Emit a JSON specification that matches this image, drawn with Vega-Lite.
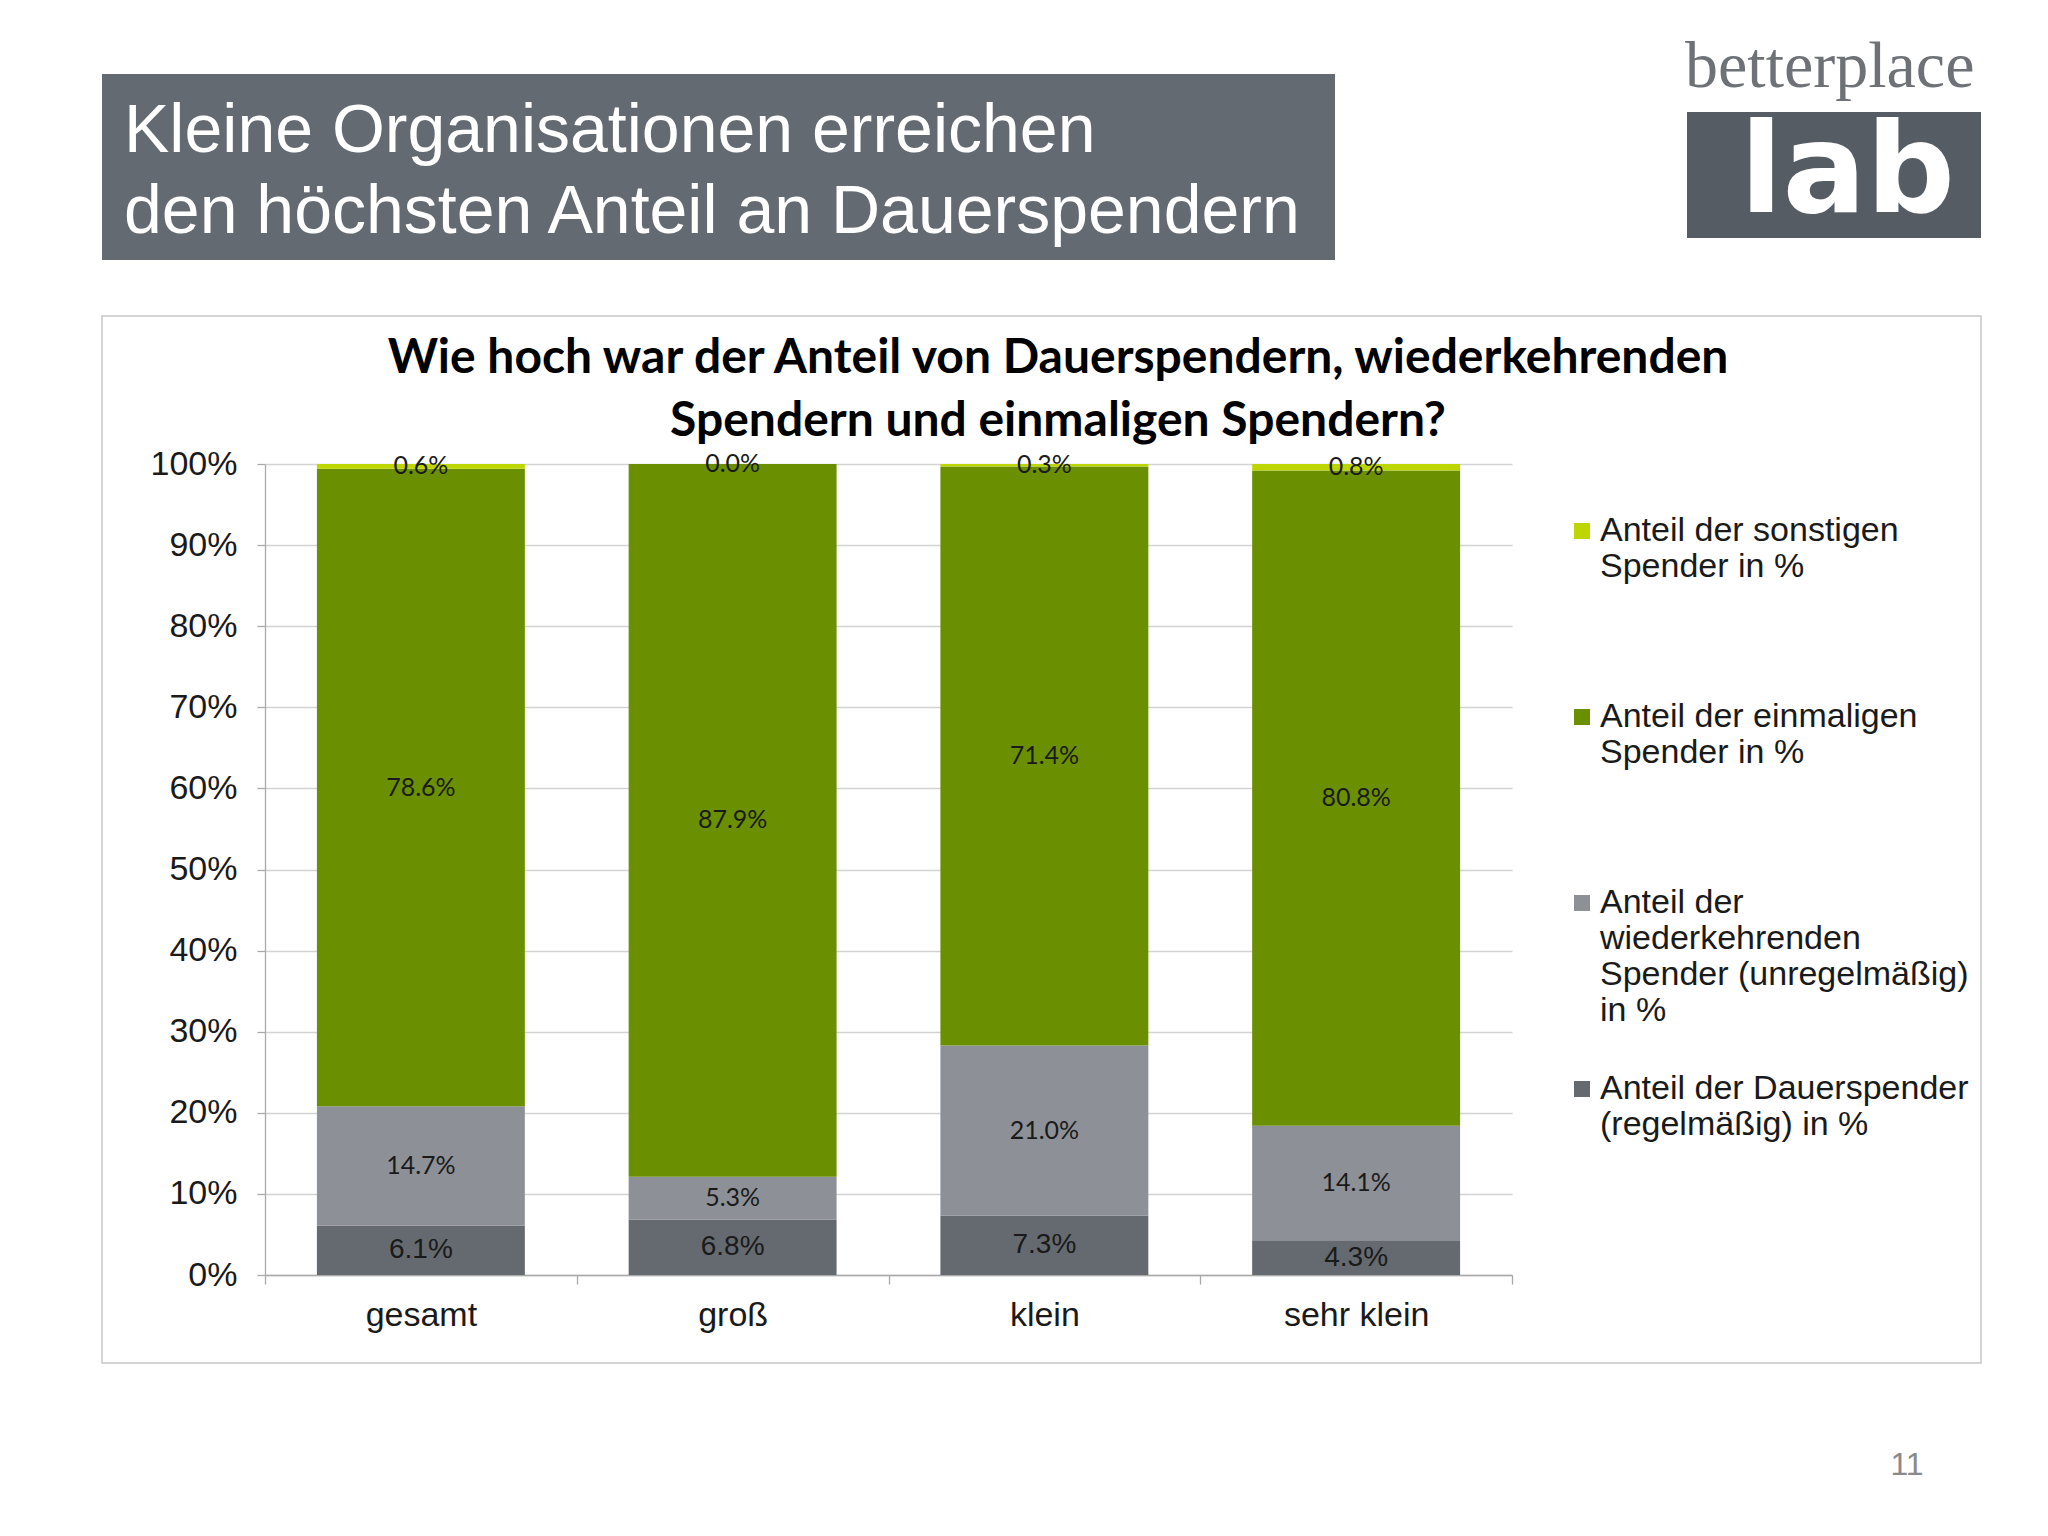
{
  "$schema": "https://vega.github.io/schema/vega-lite/v6.json",
  "width": 1247,
  "height": 811,
  "autosize": {"type": "none"},
  "padding": {"left": 265, "top": 464, "right": 536, "bottom": 261},
  "background": "white",
  "config": {
    "view": {"stroke": null},
    "axis": {"labelFont": "Liberation Sans", "labelColor": "#1a1a1a", "domainColor": "#a9a9a9", "tickColor": "#a9a9a9", "domainWidth": 1.3, "tickWidth": 1.3}
  },
  "datasets": {
    "shares": [
      {"org": "gesamt", "type": "Anteil der Dauerspender (regelmäßig) in %", "rank": 1, "value": 0.061},
      {"org": "gesamt", "type": "Anteil der wiederkehrenden Spender (unregelmäßig) in %", "rank": 2, "value": 0.147},
      {"org": "gesamt", "type": "Anteil der einmaligen Spender in %", "rank": 3, "value": 0.786},
      {"org": "gesamt", "type": "Anteil der sonstigen Spender in %", "rank": 4, "value": 0.006},
      {"org": "groß", "type": "Anteil der Dauerspender (regelmäßig) in %", "rank": 1, "value": 0.068},
      {"org": "groß", "type": "Anteil der wiederkehrenden Spender (unregelmäßig) in %", "rank": 2, "value": 0.053},
      {"org": "groß", "type": "Anteil der einmaligen Spender in %", "rank": 3, "value": 0.879},
      {"org": "groß", "type": "Anteil der sonstigen Spender in %", "rank": 4, "value": 0.0},
      {"org": "klein", "type": "Anteil der Dauerspender (regelmäßig) in %", "rank": 1, "value": 0.073},
      {"org": "klein", "type": "Anteil der wiederkehrenden Spender (unregelmäßig) in %", "rank": 2, "value": 0.21},
      {"org": "klein", "type": "Anteil der einmaligen Spender in %", "rank": 3, "value": 0.714},
      {"org": "klein", "type": "Anteil der sonstigen Spender in %", "rank": 4, "value": 0.003},
      {"org": "sehr klein", "type": "Anteil der Dauerspender (regelmäßig) in %", "rank": 1, "value": 0.043},
      {"org": "sehr klein", "type": "Anteil der wiederkehrenden Spender (unregelmäßig) in %", "rank": 2, "value": 0.141},
      {"org": "sehr klein", "type": "Anteil der einmaligen Spender in %", "rank": 3, "value": 0.808},
      {"org": "sehr klein", "type": "Anteil der sonstigen Spender in %", "rank": 4, "value": 0.008}
    ]
  },
  "layer": [
    {
      "data": {"values": [{}]},
      "mark": {"type": "rect", "fill": "transparent", "stroke": "#c6c6c6", "strokeWidth": 1.5},
      "encoding": {"x": {"value": -163}, "x2": {"value": 1716}, "y": {"value": -148}, "y2": {"value": 899}}
    },
    {
      "data": {"values": [{}]},
      "mark": {"type": "rect", "fill": "#646a71"},
      "encoding": {"x": {"value": -163}, "x2": {"value": 1070}, "y": {"value": -390}, "y2": {"value": -204}}
    },
    {
      "data": {"values": [{}]},
      "mark": {"type": "text", "align": "left", "baseline": "alphabetic", "font": "Liberation Sans", "fontSize": 68, "lineHeight": 81, "color": "#ffffff"},
      "encoding": {"x": {"value": -141}, "y": {"value": -312}, "text": {"value": ["Kleine Organisationen erreichen", "den höchsten Anteil an Dauerspendern"]}}
    },
    {
      "data": {"values": [{}]},
      "mark": {"type": "text", "align": "left", "baseline": "alphabetic", "font": "Liberation Serif", "fontSize": 66, "color": "#6e7276"},
      "encoding": {"x": {"value": 1420}, "y": {"value": -377}, "text": {"value": "betterplace"}}
    },
    {
      "data": {"values": [{}]},
      "mark": {"type": "rect", "fill": "#555c63"},
      "encoding": {"x": {"value": 1422}, "x2": {"value": 1716}, "y": {"value": -352}, "y2": {"value": -226}}
    },
    {
      "data": {"values": [{}]},
      "mark": {"type": "text", "align": "left", "baseline": "alphabetic", "font": "DejaVu Sans", "fontWeight": "bold", "fontSize": 124, "color": "#ffffff"},
      "encoding": {"x": {"value": 1475}, "y": {"value": -252}, "text": {"value": "lab"}}
    },
    {
      "data": {"values": [{}]},
      "mark": {"type": "text", "align": "center", "baseline": "middle", "font": "Liberation Sans", "fontSize": 32, "color": "#8a8a8a"},
      "encoding": {"x": {"value": 1642}, "y": {"value": 1001}, "text": {"value": "11"}}
    },
    {
      "data": {"values": [{}]},
      "mark": {"type": "text", "align": "center", "baseline": "alphabetic", "font": "Lato", "fontWeight": "bold", "fontSize": 48, "lineHeight": 63, "color": "#000000"},
      "encoding": {"x": {"value": 793}, "y": {"value": -91}, "text": {"value": ["Wie hoch war der Anteil von Dauerspendern, wiederkehrenden", "Spendern und einmaligen Spendern?"]}}
    },
    {
      "data": {"name": "shares"},
      "mark": {"type": "bar", "width": {"band": 0.667}},
      "encoding": {
        "x": {"field": "org", "type": "nominal", "sort": ["gesamt", "groß", "klein", "sehr klein"],
              "scale": {"paddingInner": 0, "paddingOuter": 0},
              "axis": {"title": null, "labelAngle": 0, "labelFontSize": 34, "labelPadding": 14, "tickBand": "extent", "tickSize": 9}},
        "y": {"field": "value", "type": "quantitative", "stack": "zero",
              "scale": {"domain": [0, 1], "nice": false},
              "axis": {"title": null, "format": ".0%", "values": [0, 0.1, 0.2, 0.3, 0.4, 0.5, 0.6, 0.7, 0.8, 0.9, 1],
                       "grid": true, "gridColor": "#d3d3d3", "gridWidth": 1.3, "tickSize": 8, "labelFontSize": 34, "labelPadding": 20}},
        "color": {"field": "type", "type": "nominal",
                  "scale": {"domain": ["Anteil der sonstigen Spender in %", "Anteil der einmaligen Spender in %", "Anteil der wiederkehrenden Spender (unregelmäßig) in %", "Anteil der Dauerspender (regelmäßig) in %"],
                            "range": ["#bdd600", "#6a8f00", "#8d9197", "#656a70"]},
                  "legend": {"orient": "none", "legendX": 1300, "legendY": 50, "title": null, "symbolType": "square", "symbolSize": 256, "symbolStrokeWidth": 0,
                             "labelFont": "Liberation Sans", "labelFontSize": 34, "labelColor": "#1a1a1a", "labelLimit": 600, "labelOffset": 1,
                             "rowPadding": 44, "gridAlign": "all", "labelBaseline": "middle",
                             "labelExpr": "datum.label == 'Anteil der sonstigen Spender in %' ? ['Anteil der sonstigen', 'Spender in %'] : datum.label == 'Anteil der einmaligen Spender in %' ? ['Anteil der einmaligen', 'Spender in %'] : datum.label == 'Anteil der Dauerspender (regelmäßig) in %' ? ['Anteil der Dauerspender', '(regelmäßig) in %'] : ['Anteil der', 'wiederkehrenden', 'Spender (unregelmäßig)', 'in %']"}},
        "order": {"field": "rank", "type": "quantitative", "sort": "ascending"}
      }
    },
    {
      "data": {"name": "shares"},
      "mark": {"type": "text", "font": "Lato", "fontSize": 25, "color": "#1a1a1a", "baseline": "middle", "align": "center"},
      "encoding": {
        "x": {"field": "org", "type": "nominal", "sort": ["gesamt", "groß", "klein", "sehr klein"]},
        "y": {"field": "value", "type": "quantitative", "stack": "zero", "bandPosition": 0.5},
        "order": {"field": "rank", "type": "quantitative", "sort": "ascending"},
        "text": {"condition": {"test": "datum.rank == 1", "value": ""}, "field": "value", "type": "quantitative", "format": ".1%"}
      }
    },
    {
      "data": {"name": "shares"},
      "transform": [{"filter": "datum.rank == 1"}],
      "mark": {"type": "text", "font": "Liberation Sans", "fontSize": 28, "color": "#1a1a1a", "baseline": "middle", "align": "center"},
      "encoding": {
        "x": {"field": "org", "type": "nominal", "sort": ["gesamt", "groß", "klein", "sehr klein"]},
        "y": {"field": "value", "type": "quantitative", "stack": "zero", "bandPosition": 0.5},
        "text": {"field": "value", "type": "quantitative", "format": ".1%"}
      }
    }
  ]
}
